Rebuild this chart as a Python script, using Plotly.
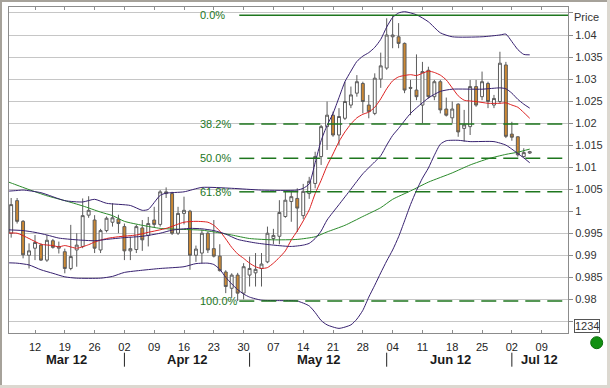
import plotly.graph_objects as go

YEAR = "2012-"

# ---------------- DATA ----------------
candle_dates = [
    "03-06", "03-07", "03-08", "03-09",
    "03-12", "03-13", "03-14", "03-15", "03-16",
    "03-19", "03-20", "03-21", "03-22", "03-23",
    "03-26", "03-27", "03-28", "03-29", "03-30",
    "04-02", "04-03", "04-04", "04-05", "04-06",
    "04-09", "04-10", "04-11", "04-12", "04-13",
    "04-16", "04-17", "04-18", "04-19", "04-20",
    "04-23", "04-24", "04-25", "04-26", "04-27",
    "04-30", "05-01", "05-02", "05-03", "05-04",
    "05-07", "05-08", "05-09", "05-10", "05-11",
    "05-14", "05-15", "05-16", "05-17", "05-18",
    "05-21", "05-22", "05-23", "05-24", "05-25",
    "05-28", "05-29", "05-30", "05-31", "06-01",
    "06-04", "06-05", "06-06", "06-07", "06-08",
    "06-11", "06-12", "06-13", "06-14", "06-15",
    "06-18", "06-19", "06-20", "06-21", "06-22",
    "06-25", "06-26", "06-27", "06-28", "06-29",
    "07-02", "07-03", "07-04", "07-05",
]
opens = [
    0.9950, 1.0024, 0.9977, 0.9900,
    0.9916, 0.9923, 0.9889, 0.9933, 0.9916,
    0.9908, 0.9870, 0.9912, 0.9920, 0.9991,
    0.9980, 0.9912, 0.9956, 0.9975, 0.9982,
    0.9965, 0.9910, 0.9913, 0.9962, 0.9945,
    0.9980, 0.9970, 1.0040, 1.0040, 0.9950,
    0.9995, 1.0000, 0.9900, 0.9905, 0.9950,
    0.9915, 0.9898, 0.9862, 0.9825, 0.9855,
    0.9814, 0.9855, 0.9860, 0.9870, 0.9885,
    0.9938, 0.9943, 0.9988, 1.0022, 1.0029,
    0.9990, 1.0040, 1.0063, 1.0124, 1.0192,
    1.0218, 1.0173, 1.0211, 1.0241, 1.0268,
    1.0290, 1.0241, 1.0222, 1.0300, 1.0325,
    1.0396, 1.0396, 1.0381, 1.0281, 1.0275,
    1.0241, 1.0320, 1.0260, 1.0294, 1.0232,
    1.0212, 1.0243, 1.0188, 1.0192, 1.0283,
    1.0260, 1.0290, 1.0241, 1.0249, 1.0332,
    1.0175, 1.0169, 1.0124, 1.0132,
]
highs = [
    1.0030, 1.0030, 0.9980, 0.9927,
    0.9946, 0.9927, 0.9946, 0.9937, 0.9931,
    0.9915, 0.9969, 0.9950, 1.0029, 1.0034,
    0.9991, 0.9960, 0.9988, 1.0018, 0.9992,
    0.9972, 0.9942, 0.9969, 0.9980, 0.9987,
    1.0010, 1.0048, 1.0054, 1.0044, 1.0010,
    1.0033, 1.0003, 0.9922, 0.9958, 0.9954,
    0.9980, 0.9925, 0.9866, 0.9859, 0.9860,
    0.9882, 0.9897, 0.9905, 0.9905, 0.9965,
    0.9960, 1.0025, 1.0044, 1.0044, 1.0052,
    1.0062, 1.0078, 1.0135, 1.0196, 1.0249,
    1.0226, 1.0234, 1.0294, 1.0283, 1.0309,
    1.0294, 1.0264, 1.0313, 1.0360, 1.0438,
    1.0445, 1.0427, 1.0383, 1.0298, 1.0356,
    1.0339, 1.0328, 1.0298, 1.0298, 1.0258,
    1.0249, 1.0245, 1.0230, 1.0298, 1.0298,
    1.0317, 1.0294, 1.0264, 1.0362, 1.0339,
    1.0203, 1.0170, 1.0143, 1.0137,
]
lows = [
    0.9940, 0.9972, 0.9893, 0.9870,
    0.9889, 0.9887, 0.9885, 0.9915, 0.9904,
    0.9859, 0.9866, 0.9874, 0.9916, 0.9985,
    0.9905, 0.9905, 0.9952, 0.9965, 0.9950,
    0.9889, 0.9889, 0.9905, 0.9910, 0.9920,
    0.9963, 0.9965, 1.0030, 0.9946, 0.9946,
    0.9970, 0.9867, 0.9885, 0.9882, 0.9905,
    0.9895, 0.9863, 0.9814, 0.9803, 0.9796,
    0.9800, 0.9829, 0.9829, 0.9829, 0.9882,
    0.9925, 0.9925, 0.9985, 0.9976, 0.9953,
    0.9982, 1.0028, 1.0052, 1.0105, 1.0139,
    1.0169, 1.0150, 1.0207, 1.0234, 1.0260,
    1.0222, 1.0211, 1.0218, 1.0280, 1.0321,
    1.0370, 1.0370, 1.0268, 1.0218, 1.0252,
    1.0200, 1.0256, 1.0252, 1.0222, 1.0215,
    1.0200, 1.0169, 1.0158, 1.0173, 1.0237,
    1.0252, 1.0234, 1.0234, 1.0245, 1.0166,
    1.0160, 1.0124, 1.0122, 1.0130,
]
closes = [
    1.0015, 0.9977, 0.9901, 0.9910,
    0.9929, 0.9889, 0.9934, 0.9918, 0.9920,
    0.9870, 0.9897, 0.9923, 0.9990, 1.0002,
    0.9916, 0.9956, 0.9984, 0.9985, 0.9972,
    0.9910, 0.9915, 0.9965, 0.9935, 0.9972,
    0.9970, 1.0044, 1.0044, 0.9950, 0.9995,
    1.0002, 0.9900, 0.9914, 0.9950, 0.9912,
    0.9898, 0.9865, 0.9829, 0.9855, 0.9814,
    0.9874, 0.9870, 0.9868, 0.9880, 0.9950,
    0.9945, 0.9997, 1.0025, 1.0033, 1.0007,
    1.0045, 1.0068, 1.0124, 1.0192, 1.0218,
    1.0173, 1.0215, 1.0249, 1.0264, 1.0294,
    1.0249, 1.0226, 1.0302, 1.0330, 1.0400,
    1.0400, 1.0381, 1.0275, 1.0279, 1.0260,
    1.0317, 1.0260, 1.0294, 1.0230, 1.0218,
    1.0232, 1.0180, 1.0196, 1.0283, 1.0241,
    1.0294, 1.0249, 1.0256, 1.0336, 1.0170,
    1.0168, 1.0128, 1.0133, 1.0135,
]

# Bollinger upper band
ub_dates = ["03-05", "03-07", "03-08", "03-13", "03-19", "03-22", "03-26", "03-28", "04-03", "04-05",
            "04-06", "04-10", "04-11", "04-16", "04-19", "04-26", "05-03", "05-11", "05-14", "05-15",
            "05-16", "05-17", "05-18", "05-21", "05-22", "05-23", "05-24", "05-25", "05-28", "05-29",
            "05-30", "05-31", "06-01", "06-04", "06-05", "06-06", "06-08", "06-12", "06-14", "06-18",
            "06-25", "06-28", "06-29", "07-02", "07-03", "07-04", "07-05"]
ub_vals = [1.0045, 1.0047, 1.0048, 1.0042, 1.0024, 1.0021, 1.0027, 1.0018, 1.0013, 1.0002,
           1.0004, 1.0036, 1.0041, 1.0044, 1.0054, 1.0052, 1.0048, 1.0048, 1.0052, 1.0062,
           1.0110, 1.0160, 1.0195, 1.0222, 1.0258, 1.0294, 1.0318, 1.0340, 1.0352, 1.0360,
           1.0372, 1.0390, 1.0418, 1.0440, 1.0450, 1.0453, 1.0446, 1.0430, 1.0405, 1.0396,
           1.0396, 1.0400, 1.0402, 1.0385, 1.0367, 1.0356, 1.0355]

# Bollinger middle band
mb_dates = ["03-05", "03-08", "03-12", "03-14", "03-16", "03-21", "03-26", "03-28", "04-02", "04-05",
            "04-10", "04-12", "04-17", "04-19", "04-23", "04-25", "04-27", "05-02", "05-07", "05-10",
            "05-14", "05-15", "05-16", "05-17", "05-18", "05-22", "05-24", "05-28", "05-30", "05-31",
            "06-01", "06-04", "06-05", "06-07", "06-12", "06-14", "06-18", "06-25", "06-28", "06-29",
            "07-02", "07-03", "07-04", "07-05"]
mb_vals = [0.9958, 0.9956, 0.9952, 0.9946, 0.9939, 0.9935, 0.9933, 0.9936, 0.9940, 0.9943,
           0.9950, 0.9957, 0.9961, 0.9960, 0.9956, 0.9948, 0.9936, 0.9928, 0.9923, 0.9920,
           0.9923, 0.9927, 0.9938, 0.9955, 0.9980, 1.0015, 1.0050, 1.0085, 1.0112, 1.0126,
           1.0150, 1.0172, 1.0188, 1.0222, 1.0257, 1.0272, 1.0277, 1.0277, 1.0280, 1.0278,
           1.0268, 1.0254, 1.0243, 1.0234]

# Bollinger lower band
lb_dates = ["03-05", "03-07", "03-09", "03-13", "03-15", "03-19", "03-21", "03-27", "03-29", "04-02",
            "04-05", "04-10", "04-16", "04-18", "04-20", "04-23", "04-24", "04-25", "04-26", "04-27",
            "04-30", "05-01", "05-03", "05-08", "05-11", "05-15", "05-16", "05-17", "05-18", "05-22",
            "05-24", "05-25", "05-28", "05-29", "05-30", "05-31", "06-01", "06-04", "06-05", "06-06",
            "06-07", "06-08", "06-11", "06-12", "06-13", "06-14", "06-15", "06-19", "06-21", "06-27",
            "06-29", "07-02", "07-03", "07-04", "07-05"]
lb_vals = [0.9883, 0.9882, 0.9878, 0.9867, 0.9859, 0.9851, 0.9848, 0.9848, 0.9852, 0.9861,
           0.9866, 0.9870, 0.9874, 0.9881, 0.9882, 0.9879, 0.9868, 0.9850, 0.9835, 0.9822,
           0.9812, 0.9805, 0.9798, 0.9797, 0.9796, 0.9785, 0.9770, 0.9752, 0.9742, 0.9734,
           0.9742, 0.9755, 0.9775, 0.9805, 0.9832, 0.9860, 0.9887, 0.9912, 0.9942, 0.9978,
           1.0015, 1.0047, 1.0075, 1.0098, 1.0127, 1.0152, 1.0160, 1.0161, 1.0158, 1.0158,
           1.0150, 1.0141, 1.0131, 1.0121, 1.0110]

# Short moving average (red)
rl_dates = ["03-05", "03-07", "03-09", "03-13", "03-15", "03-16", "03-19", "03-21", "03-23", "03-26",
            "03-28", "03-30", "04-04", "04-06", "04-11", "04-16", "04-18", "04-20", "04-23", "04-24",
            "04-25", "04-26", "04-27", "04-30", "05-01", "05-02", "05-03", "05-04", "05-07", "05-08",
            "05-09", "05-10", "05-11", "05-14", "05-15", "05-16", "05-17", "05-18", "05-21", "05-22",
            "05-23", "05-24", "05-25", "05-28", "05-29", "05-30", "05-31", "06-01", "06-04", "06-05",
            "06-07", "06-08", "06-12", "06-13", "06-14", "06-15", "06-18", "06-19", "06-20", "06-22",
            "06-26", "06-28", "06-29", "07-02", "07-03", "07-04", "07-05"]
rl_vals = [0.9950, 0.9950, 0.9938, 0.9925, 0.9922, 0.9919, 0.9922, 0.9916, 0.9924, 0.9930,
           0.9938, 0.9942, 0.9946, 0.9952, 0.9961, 0.9975, 0.9977, 0.9975, 0.9968, 0.9955,
           0.9937, 0.9918, 0.9903, 0.9893, 0.9882, 0.9874, 0.9870, 0.9872, 0.9882, 0.9895,
           0.9910, 0.9935, 0.9955, 0.9978, 1.0003, 1.0040, 1.0070, 1.0103, 1.0130, 1.0158,
           1.0180, 1.0198, 1.0212, 1.0220, 1.0225, 1.0236, 1.0255, 1.0278, 1.0296, 1.0305,
           1.0310, 1.0308, 1.0318, 1.0315, 1.0309, 1.0298, 1.0280, 1.0262, 1.0252, 1.0249,
           1.0245, 1.0245, 1.0246, 1.0241, 1.0236, 1.0224, 1.0211]

# Long moving average (green)
gl_dates = ["03-05", "03-06", "03-09", "03-14", "03-19", "03-22", "03-27", "03-29", "04-02", "04-05",
            "04-10", "04-13", "04-19", "04-23", "04-26", "05-01", "05-07", "05-11", "05-16", "05-18",
            "05-23", "05-28", "05-31", "06-04", "06-07", "06-12", "06-18", "06-21", "06-26", "06-29",
            "07-03", "07-05"]
gl_vals = [1.0069, 1.0064, 1.0049, 1.0035, 1.0024, 1.0012, 0.9998, 0.9990, 0.9977, 0.9968,
           0.9961, 0.9959, 0.9957, 0.9953, 0.9946, 0.9938, 0.9935, 0.9936, 0.9942, 0.9953,
           0.9968, 0.9988, 1.0008, 1.0027, 1.0046, 1.0066, 1.0087, 1.0105, 1.0119, 1.0129,
           1.0134, 1.0141]

# Fibonacci retracement levels
fib_labels = ["0.0%", "38.2%", "50.0%", "61.8%", "100.0%"]
fib_levels = [1.0445, 1.0198, 1.0120, 1.0044, 0.9796]

# Axis ticks
x_tick_dates = ["03-12", "03-19", "03-26", "04-02", "04-09", "04-16", "04-23", "04-30", "05-07",
                "05-14", "05-21", "05-28", "06-04", "06-11", "06-18", "06-25", "07-02", "07-09"]
x_tick_labels = ["12", "19", "26", "02", "09", "16", "23", "30", "07",
                 "14", "21", "28", "04", "11", "18", "25", "02", "09"]
month_labels = ["Mar 12", "Apr 12", "May 12", "Jun 12", "Jul 12"]
month_starts = ["04-02", "05-01", "06-01", "07-02"]
y_ticks = [0.975, 0.98, 0.985, 0.99, 0.995, 1.0, 1.005, 1.01, 1.015, 1.02, 1.025, 1.03, 1.035, 1.04, 1.045]
y_tick_labels = ["", "0.98", "0.985", "0.99", "0.995", "1", "1.005", "1.01", "1.015", "1.02",
                 "1.025", "1.03", "1.035", "1.04", ""]

# ---------------- STYLE / LAYOUT ----------------
PURPLE = "#36206f"
RED = "#dd2020"
GREEN = "#2a8a2a"
FIB = "#1e761e"
FONT = "Liberation Sans, Arial, sans-serif"

W, H = 610, 388
ML, MR, MT, MB = 9, 42, 7, 55
PW, PH = W - ML - MR, H - MT - MB


def px_x(px):
    return (px - ML) / PW


def px_y(py):
    return (H - MB - py) / PH


def dt(s):
    return YEAR + s


X_RANGE = ["2012-03-05 15:19", "2012-07-13 10:05"]
Y_RANGE = [0.97235, 1.04636]

fig = go.Figure()

fig.add_trace(go.Candlestick(
    x=[dt(s) for s in candle_dates], open=opens, high=highs, low=lows, close=closes,
    increasing=dict(fillcolor="#ffffff", line=dict(color="#5c5c5c", width=1)),
    decreasing=dict(fillcolor="#cc8833", line=dict(color="#5c5c5c", width=1)),
    whiskerwidth=0, hoverinfo="skip", showlegend=False,
))

for dates, vals, color in [
    (gl_dates, gl_vals, GREEN),
    (rl_dates, rl_vals, RED),
    (ub_dates, ub_vals, PURPLE),
    (mb_dates, mb_vals, PURPLE),
    (lb_dates, lb_vals, PURPLE),
]:
    fig.add_trace(go.Scatter(
        x=[dt(s) for s in dates], y=vals, mode="lines",
        line=dict(color=color, width=1, shape="spline", smoothing=0.6),
        hoverinfo="skip", showlegend=False,
    ))

# latest-value diamonds on the right axis
marker_vals = [ub_vals[-1], mb_vals[-1], rl_vals[-1], closes[-1], gl_vals[-1], lb_vals[-1]]
marker_cols = [PURPLE, PURPLE, "#e01515", "#7a7a7a", "#1c8c1c", PURPLE]
fig.add_trace(go.Scatter(
    x=[px_x(573)] * len(marker_vals), y=marker_vals, xaxis="x2", yaxis="y",
    mode="markers", cliponaxis=False,
    marker=dict(symbol="diamond", size=10, color=marker_cols, line=dict(width=0)),
    hoverinfo="skip", showlegend=False,
))

shapes = []
annotations = []

# Fibonacci lines + labels
for lab, lev in zip(fib_labels, fib_levels):
    shapes.append(dict(
        type="line", xref="x", yref="y", x0="2012-04-27 06:30", x1=X_RANGE[1], y0=lev, y1=lev,
        line=dict(color=FIB, width=1.5, dash="solid" if lab == "0.0%" else "15px,7px"),
    ))
    annotations.append(dict(
        x="2012-04-18 10:00", y=lev, xref="x", yref="y", text=lab, showarrow=False,
        xanchor="left", yanchor="middle", font=dict(family=FONT, size=11, color=FIB),
    ))

# month separators and labels
for s in month_starts:
    shapes.append(dict(type="line", xref="x", yref="paper", x0=dt(s), x1=dt(s),
                       y0=px_y(352.7), y1=px_y(366.7), line=dict(color="#222", width=1)))
month_centers = ["2012-03-19 08:00", "2012-04-16 13:00", "2012-05-16 15:20",
                 "2012-06-15 15:00", "2012-07-06 17:00"]
for lab, c in zip(month_labels, month_centers):
    annotations.append(dict(x=c, y=px_y(359), xref="x", yref="paper", text="<b>%s</b>" % lab,
                            showarrow=False, xanchor="center", yanchor="middle",
                            font=dict(family=FONT, size=13, color="#1a1a1a")))

annotations.append(dict(x=px_x(571.5), y=px_y(17), xref="paper", yref="paper", text="Price",
                        showarrow=False, xanchor="left", yanchor="middle",
                        font=dict(family=FONT, size=11, color="#333")))
annotations.append(dict(x=px_x(574), y=px_y(326), xref="paper", yref="paper", text="1234",
                        showarrow=False, xanchor="left", yanchor="middle", bgcolor="white",
                        bordercolor="#555", borderwidth=1, borderpad=0,
                        font=dict(family=FONT, size=11, color="#333")))

# green status dot
shapes.append(dict(type="circle", xref="paper", yref="paper",
                   x0=px_x(590.7), x1=px_x(602.7), y0=px_y(348.7), y1=px_y(336.7),
                   fillcolor="#119011", line=dict(color="#0b6e0b", width=1)))

# outer frame
shapes.append(dict(type="line", xref="paper", yref="paper", x0=px_x(0), x1=px_x(610),
                   y0=px_y(1), y1=px_y(1), line=dict(color="#a6a29a", width=2)))
shapes.append(dict(type="line", xref="paper", yref="paper", x0=px_x(1), x1=px_x(1),
                   y0=px_y(0), y1=px_y(388), line=dict(color="#a6a29a", width=2)))
shapes.append(dict(type="line", xref="paper", yref="paper", x0=px_x(0), x1=px_x(610),
                   y0=px_y(386.5), y1=px_y(386.5), line=dict(color="#dcd8d0", width=3)))
shapes.append(dict(type="line", xref="paper", yref="paper", x0=px_x(608.5), x1=px_x(608.5),
                   y0=px_y(0), y1=px_y(388), line=dict(color="#dcd8d0", width=3)))

fig.update_layout(
    width=W, height=H, margin=dict(l=ML, r=MR, t=MT, b=MB, pad=0),
    paper_bgcolor="white", plot_bgcolor="white", showlegend=False,
    font=dict(family=FONT, size=11, color="#222"),
    xaxis=dict(
        type="date", range=X_RANGE, rangebreaks=[dict(bounds=["sat", "mon"])],
        tickvals=[dt(s) for s in x_tick_dates], ticktext=x_tick_labels,
        ticks="inside", ticklen=3, tickcolor="#8c8c8c", tickwidth=1,
        ticklabelstandoff=4,
        showgrid=False, zeroline=False, showline=True, linecolor="#8c8c8c", linewidth=1,
        mirror="ticks", rangeslider=dict(visible=False),
        tickfont=dict(family=FONT, size=11, color="#222"),
    ),
    xaxis2=dict(overlaying="x", range=[0, 1], visible=False, anchor="y"),
    yaxis=dict(
        side="right", range=Y_RANGE, tickvals=y_ticks, ticktext=y_tick_labels,
        ticks="outside", ticklen=4, tickcolor="#8c8c8c", tickwidth=1,
        showgrid=True, gridcolor="#c6c6c6", gridwidth=1, zeroline=False,
        showline=True, linecolor="#8c8c8c", linewidth=1, mirror=True,
        tickfont=dict(family=FONT, size=11, color="#333"),
    ),
    shapes=shapes, annotations=annotations,
)

fig.write_html("out.html", config={"displayModeBar": False})
